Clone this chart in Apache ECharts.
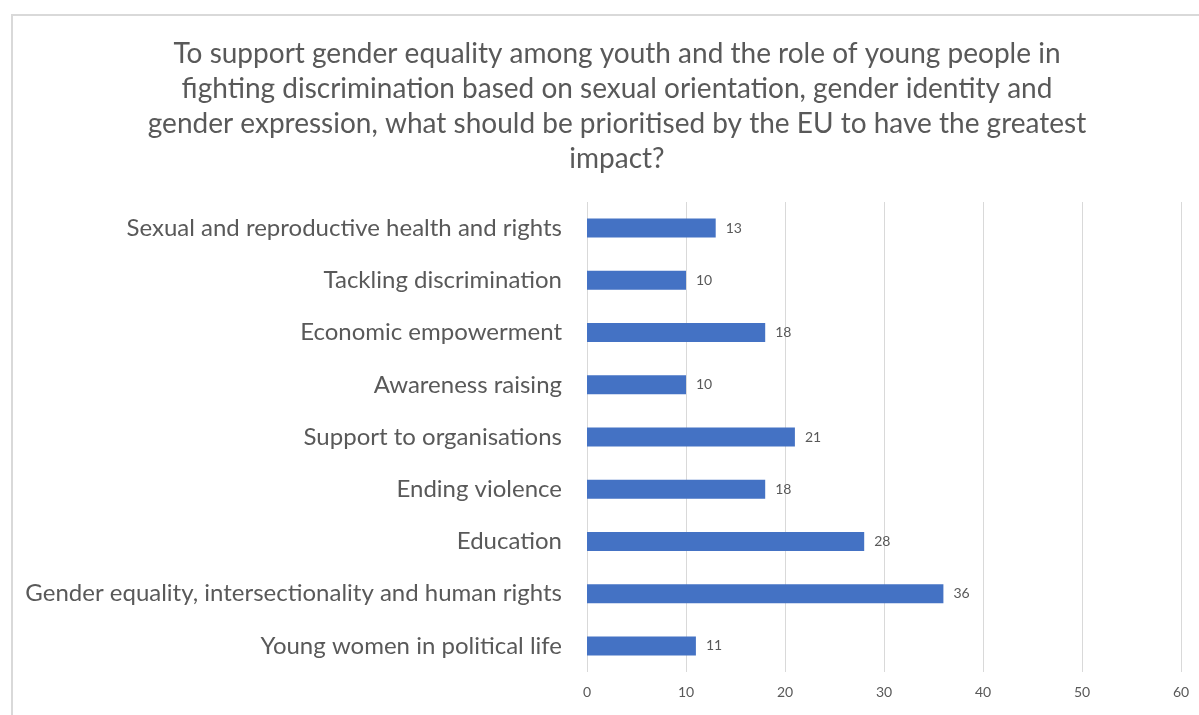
<!DOCTYPE html>
<html>
<head>
<meta charset="utf-8">
<script src="https://cdn.jsdelivr.net/npm/echarts@6/dist/echarts.min.js"></script>
<style>
  html, body { margin: 0; padding: 0; background: #fff; overflow: hidden; }
  #chart { position: absolute; left: 0; top: 0; width: 1199px; height: 715px; }
  #frame { position: absolute; left: 11px; top: 14px; width: 1200px; height: 720px;
           border-top: 2px solid #d9d9d9; border-left: 2px solid #d9d9d9; pointer-events: none; }
</style>
</head>
<body>
<div id="frame"></div>
<div id="chart"></div>
<script>
// Survey priorities, listed top to bottom
const categories = [
  'Sexual and reproductive health and rights',
  'Tackling discrimination',
  'Economic empowerment',
  'Awareness raising',
  'Support to organisations',
  'Ending violence',
  'Education',
  'Gender equality, intersectionality and human rights',
  'Young women in political life'
];
const responses = [13, 10, 18, 10, 21, 18, 28, 36, 11];
const titleLines = [
  'To support gender equality among youth and the role of young people in',
  'fighting discrimination based on sexual orientation, gender identity and',
  'gender expression, what should be prioritised by the EU to have the greatest',
  'impact?'
];

const FONT = 'Lato, "Open Sans", sans-serif';
const chart = echarts.init(document.getElementById('chart'));
chart.setOption({
  animation: false,
  textStyle: { fontFamily: FONT },
  title: {
    text: titleLines.join('\n'),
    left: 612,
    top: 31,
    textAlign: 'center',
    textStyle: { fontFamily: FONT, fontSize: 28, fontWeight: 'normal', color: '#595959', lineHeight: 35 }
  },
  grid: { left: 587, right: 18, top: 202, bottom: 43, containLabel: false },
  xAxis: {
    type: 'value',
    min: 0, max: 60, interval: 10,
    axisLine: { show: false },
    axisTick: { show: false },
    splitLine: { lineStyle: { color: '#d9d9d9', width: 1 } },
    axisLabel: { color: '#595959', fontSize: 14, margin: 13, fontFamily: FONT }
  },
  yAxis: {
    type: 'category',
    data: categories,
    inverse: true,
    axisLine: { show: false },
    axisTick: { show: false },
    axisLabel: { color: '#595959', fontSize: 24, margin: 25, fontFamily: FONT }
  },
  series: [{
    type: 'bar',
    data: responses,
    barWidth: 19,
    itemStyle: { color: '#4472C4' },
    label: { show: true, position: 'right', distance: 10, color: '#595959', fontSize: 14, fontFamily: FONT }
  }]
});
</script>
</body>
</html>
